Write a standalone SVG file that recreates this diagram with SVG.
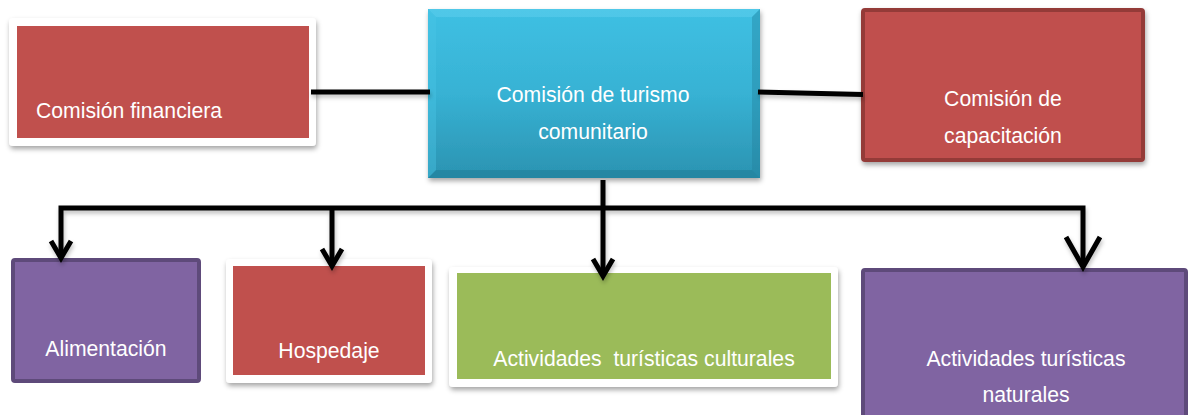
<svg xmlns="http://www.w3.org/2000/svg" width="1189" height="415" viewBox="0 0 1189 415">
<defs>
<filter id="sh" x="-10%" y="-10%" width="120%" height="130%">
<feDropShadow dx="1" dy="3" stdDeviation="2.5" flood-color="#000" flood-opacity="0.35"/>
</filter>
<filter id="lsh" x="-5%" y="-50%" width="110%" height="300%">
<feDropShadow dx="1" dy="3" stdDeviation="2" flood-color="#000" flood-opacity="0.25"/>
</filter>
<linearGradient id="cyan" x1="0" y1="0" x2="0" y2="1">
<stop offset="0" stop-color="#3fc0e3"/>
<stop offset="0.5" stop-color="#37b2d4"/>
<stop offset="1" stop-color="#2b93b1"/>
</linearGradient>
</defs>
<style>
.t{font-family:"Liberation Sans",Arial,sans-serif;font-size:21.2px;fill:#ffffff}
.m{text-anchor:middle}
.red{fill:#c0504d}
.pur{fill:#8064a2;stroke:#5e4a7a;stroke-width:4}
.grn{fill:#9bbb59}
.frame{fill:#ffffff}
.ln{stroke:#000;fill:none;stroke-width:5}
.ar{stroke:#000;fill:none;stroke-width:5;stroke-linejoin:miter}
</style>

<g id="financiera">
<rect class="frame" x="9" y="18" width="307" height="128" rx="4" filter="url(#sh)"/>
<rect class="red" x="17" y="26" width="292" height="112"/>
<text class="t" x="36" y="118">Comisión financiera</text>
</g>

<g id="turismo">
<rect x="428" y="9" width="332" height="169" fill="url(#cyan)" filter="url(#sh)"/>
<polygon points="428,9 760,9 752,17 436,17" fill="#5fd0ee" opacity="0.5"/>
<polygon points="428,178 760,178 752,170 436,170" fill="#1f7a94" opacity="0.5"/>
<polygon points="428,9 436,17 436,170 428,178" fill="#4cc6e6" opacity="0.4"/>
<polygon points="760,9 752,17 752,170 760,178" fill="#237f9a" opacity="0.4"/>
<text class="t m" x="593" y="102">Comisión de turismo</text>
<text class="t m" x="593" y="139">comunitario</text>
</g>

<g id="capacitacion">
<rect x="863" y="10" width="280" height="150" rx="2" fill="#c0504d" stroke="#943b39" stroke-width="4" filter="url(#sh)"/>
<text class="t m" x="1003" y="106">Comisión de</text>
<text class="t m" x="1003" y="143">capacitación</text>
</g>

<g id="alimentacion">
<rect class="pur" x="13" y="260" width="186" height="121" rx="2"/>
<text class="t m" x="106" y="356">Alimentación</text>
</g>

<g id="hospedaje">
<rect class="frame" x="226" y="259" width="206" height="124" rx="4" filter="url(#sh)"/>
<rect class="red" x="233" y="266" width="192" height="109"/>
<text class="t m" x="329" y="358">Hospedaje</text>
</g>

<g id="culturales">
<rect class="frame" x="449" y="267" width="389" height="120" rx="4" filter="url(#sh)"/>
<rect class="grn" x="457" y="273" width="374" height="106"/>
<text class="t m" x="644" y="366" xml:space="preserve">Actividades  turísticas culturales</text>
</g>

<g id="naturales">
<rect class="pur" x="863" y="270" width="323" height="160" rx="2"/>
<text class="t m" x="1026" y="366">Actividades turísticas</text>
<text class="t m" x="1026" y="402">naturales</text>
</g>

<g id="connectors" filter="url(#lsh)">
<line class="ln" x1="311" y1="92" x2="430" y2="92"/>
<line class="ln" x1="758" y1="92" x2="863" y2="94.5"/>
<line class="ln" x1="603" y1="180" x2="603" y2="276"/>
<polyline class="ln" points="61,258 61,208 1083,208 1083,267" stroke-width="6"/>
<line class="ln" x1="332" y1="208" x2="332" y2="266"/>
<polyline class="ar" points="51,241 61,258 71,241"/>
<polyline class="ar" points="322,249 332,266 342,249"/>
<polyline class="ar" points="593,259 603,276 613,259"/>
<polyline class="ar" points="1066,237 1083,267 1100,237" stroke-width="8"/>
</g>
</svg>
